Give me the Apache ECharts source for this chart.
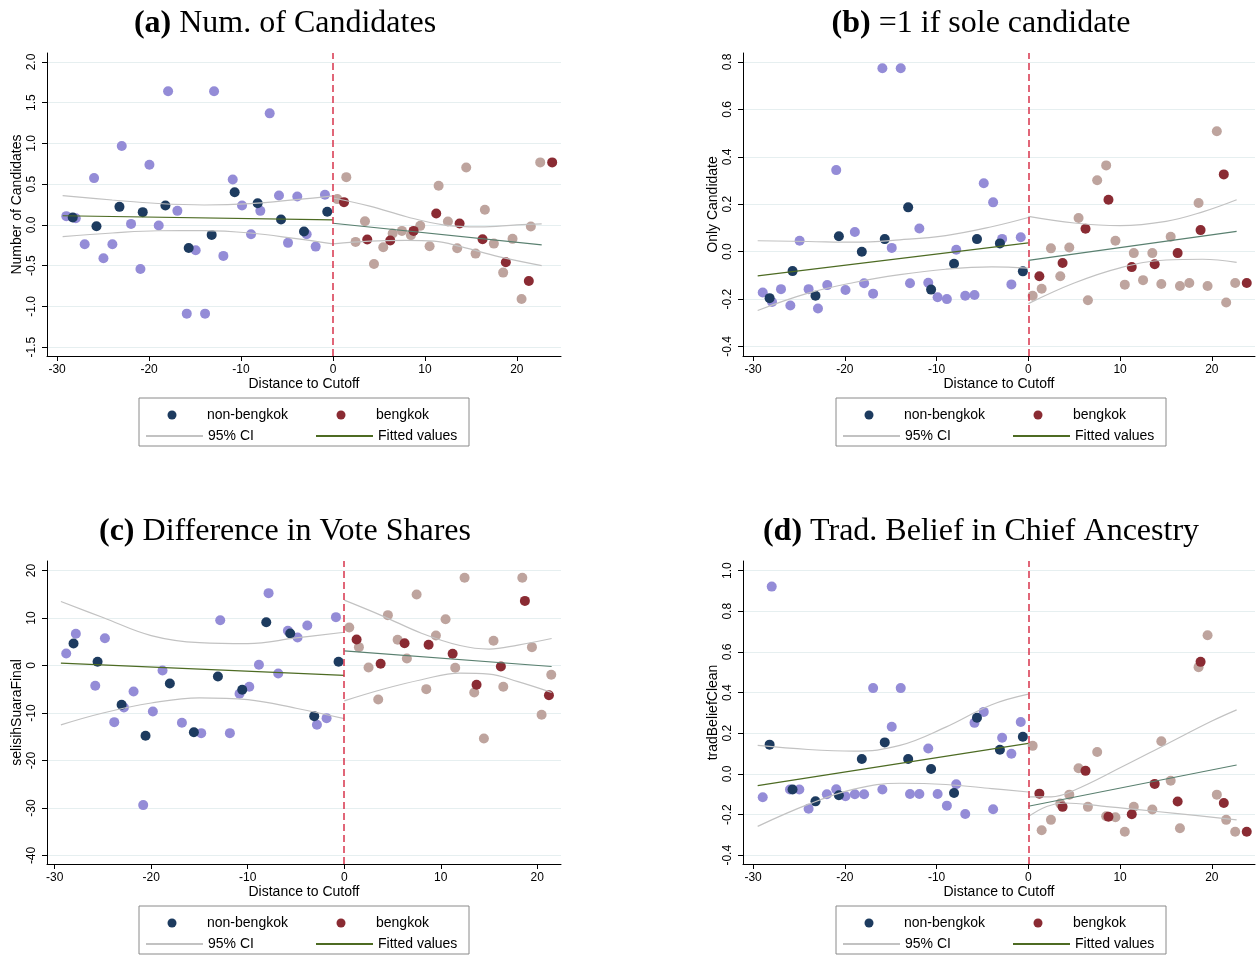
<!DOCTYPE html>
<html><head><meta charset="utf-8">
<script src="https://cdn.jsdelivr.net/npm/echarts@6/dist/echarts.min.js"></script>
<style>html,body{margin:0;padding:0;background:#fff}#c{width:1257px;height:957px}</style>
</head><body><div id="c"></div>
<script>
// ---------- tick labels ----------
const xTicks = [-30, -20, -10, 0, 10, 20];
const yTicksA = [-1.5, -1, -0.5, 0, 0.5, 1, 1.5, 2];
const yTicksB = [-0.4, -0.2, 0, 0.2, 0.4, 0.6, 0.8];
const yTicksC = [-40, -30, -20, -10, 0, 10, 20];
const yTicksD = [-0.4, -0.2, 0, 0.2, 0.4, 0.6, 0.8, 1.0];

// ---------- panel (a) Num. of Candidates ----------
const A_lav = [[-29.0,0.107],[-27.97,0.082],[-27.0,-0.238],[-25.98,0.574],[-24.96,-0.41],[-23.99,-0.238],[-22.97,0.968],[-21.96,0.012],[-20.94,-0.541],[-19.96,0.738],[-18.95,-0.008],[-17.93,1.64],[-16.92,0.172],[-15.9,-1.09],[-14.93,-0.312],[-13.91,-1.09],[-12.93,1.64],[-11.92,-0.381],[-10.9,0.558],[-9.89,0.238],[-8.91,-0.115],[-7.9,0.172],[-6.88,1.369],[-5.87,0.361],[-4.89,-0.221],[-3.88,0.349],[-2.86,-0.115],[-1.88,-0.267],[-0.87,0.369]];
const A_nav = [[-28.3,0.09],[-25.72,-0.016],[-23.22,0.221],[-20.69,0.156],[-18.22,0.238],[-15.69,-0.283],[-13.19,-0.123],[-10.69,0.40],[-8.19,0.266],[-5.65,0.066],[-3.15,-0.082],[-0.62,0.16]];
const A_taupe = [[0.47,0.316],[1.45,0.586],[2.46,-0.209],[3.48,0.045],[4.46,-0.48],[5.47,-0.275],[6.49,-0.107],[7.5,-0.074],[8.48,-0.127],[9.49,-0.012],[10.51,-0.262],[11.49,0.48],[12.5,0.041],[13.51,-0.287],[14.49,0.705],[15.51,-0.353],[16.52,0.185],[17.5,-0.23],[18.51,-0.586],[19.53,-0.172],[20.51,-0.91],[21.52,-0.02],[22.54,0.767]];
const A_red = [[1.2,0.279],[3.73,-0.18],[6.23,-0.193],[8.77,-0.074],[11.23,0.139],[13.77,0.016],[16.27,-0.176],[18.8,-0.459],[21.3,-0.689],[23.84,0.767]];
const A_fitL = [[-29.4,0.112],[0,0.062]];
const A_fitR = [[0,0.02],[22.7,-0.246]];
const A_ciUpL = [[-29.4,0.36],[-24,0.305],[-19,0.262],[-14,0.244],[-9,0.26],[-4,0.31],[0,0.357]];
const A_ciLoL = [[-29.4,-0.144],[-24,-0.1],[-19,-0.072],[-14,-0.07],[-9,-0.1],[-4,-0.17],[0,-0.234]];
const A_ciUpR = [[0,0.33],[4,0.23],[8,0.1],[12,0.0],[16,-0.025],[20,0.0],[22.7,0.012]];
const A_ciLoR = [[0,-0.234],[4,-0.2],[8,-0.19],[11,-0.2],[14,-0.27],[18,-0.39],[22.7,-0.5]];

// ---------- panel (b) =1 if sole candidate ----------
const B_lav = [[-28.95,-0.172],[-27.93,-0.212],[-26.96,-0.158],[-25.94,-0.227],[-24.93,0.046],[-23.95,-0.158],[-22.93,-0.24],[-21.92,-0.141],[-20.94,0.344],[-19.93,-0.162],[-18.91,0.083],[-17.9,-0.133],[-16.92,-0.177],[-15.91,0.774],[-14.89,0.016],[-13.91,0.774],[-12.9,-0.133],[-11.88,0.098],[-10.91,-0.131],[-9.89,-0.192],[-8.88,-0.2],[-7.86,0.008],[-6.88,-0.186],[-5.87,-0.183],[-4.86,0.289],[-3.84,0.208],[-2.86,0.054],[-1.85,-0.138],[-0.83,0.061]];
const B_nav = [[-28.2,-0.196],[-25.7,-0.082],[-23.2,-0.186],[-20.65,0.065],[-18.15,0.0],[-15.65,0.053],[-13.1,0.187],[-10.6,-0.16],[-8.1,-0.051],[-5.6,0.053],[-3.1,0.035],[-0.6,-0.083]];
const B_taupe = [[0.47,-0.186],[1.45,-0.156],[2.46,0.014],[3.48,-0.104],[4.46,0.018],[5.47,0.142],[6.49,-0.205],[7.5,0.301],[8.48,0.364],[9.49,0.046],[10.51,-0.139],[11.49,-0.006],[12.5,-0.12],[13.51,-0.006],[14.49,-0.136],[15.51,0.063],[16.52,-0.145],[17.54,-0.132],[18.55,0.205],[19.53,-0.145],[20.54,0.508],[21.56,-0.214],[22.54,-0.132]];
const B_red = [[1.2,-0.104],[3.73,-0.048],[6.23,0.097],[8.73,0.219],[11.27,-0.065],[13.77,-0.053],[16.27,-0.006],[18.77,0.091],[21.3,0.326],[23.8,-0.132]];
const B_fitL = [[-29.5,-0.102],[0,0.037]];
const B_fitR = [[0,-0.037],[22.7,0.086]];
const B_ciUpL = [[-29.5,0.046],[-24,0.043],[-19,0.04],[-14,0.05],[-9,0.068],[-4,0.105],[0,0.144]];
const B_ciLoL = [[-29.5,-0.248],[-24,-0.175],[-19,-0.13],[-14,-0.097],[-9,-0.074],[-4,-0.064],[0,-0.069]];
const B_ciUpR = [[0,0.149],[5,0.121],[10,0.11],[15,0.128],[19,0.168],[22.7,0.219]];
const B_ciLoR = [[0,-0.219],[5,-0.132],[10,-0.068],[15,-0.035],[19,-0.032],[22.7,-0.045]];

// ---------- panel (c) Difference in Vote Shares ----------
const C_lav = [[-28.81,2.53],[-27.81,6.67],[-25.8,-4.28],[-24.8,5.75],[-23.83,-11.93],[-22.83,-8.84],[-21.83,-5.47],[-20.83,-29.4],[-19.83,-9.68],[-18.83,-1.05],[-16.82,-12.07],[-14.82,-14.25],[-12.85,9.54],[-11.85,-14.25],[-10.85,-5.96],[-9.84,-4.49],[-8.84,0.14],[-7.84,15.23],[-6.84,-1.68],[-5.84,7.3],[-4.84,5.89],[-3.83,8.42],[-2.83,-12.49],[-1.83,-11.09],[-0.86,10.18]];
const C_nav = [[-28.05,4.63],[-25.56,0.77],[-23.07,-8.28],[-20.59,-14.81],[-18.07,-3.79],[-15.58,-14.04],[-13.09,-2.32],[-10.57,-5.12],[-8.08,9.12],[-5.6,6.74],[-3.11,-10.67],[-0.59,0.77]];
const C_taupe = [[0.52,8.0],[1.52,3.86],[2.52,-0.42],[3.52,-7.16],[4.52,10.6],[5.53,5.4],[6.49,1.47],[7.5,14.95],[8.5,-4.98],[9.5,6.32],[10.5,9.75],[11.5,-0.49],[12.47,18.46],[13.47,-5.68],[14.47,-15.37],[15.47,5.19],[16.48,-4.49],[18.45,18.46],[19.45,3.86],[20.45,-10.39],[21.45,-1.96]];
const C_red = [[1.28,5.47],[3.77,0.35],[6.25,4.7],[8.74,4.35],[11.23,2.46],[13.71,-4.07],[16.23,-0.21],[18.72,13.6],[21.21,-6.25]];
const C_fitL = [[-29.36,0.49],[0,-2.1]];
const C_fitR = [[0,3.09],[21.49,-0.21]];
const C_ciUpL = [[-29.36,13.47],[-25,10.1],[-20,6.3],[-15,4.8],[-10,4.6],[-5,5.8],[0,7.0]];
const C_ciLoL = [[-29.36,-12.5],[-25,-10.0],[-20,-7.9],[-15,-6.8],[-10,-7.2],[-5,-9.0],[0,-11.2]];
const C_ciUpR = [[0,13.75],[4,10.4],[8,6.8],[12,4.2],[15,3.45],[18,4.3],[21.49,5.68]];
const C_ciLoR = [[0,-7.44],[4,-5.0],[8,-3.0],[12,-1.6],[15,-1.8],[18,-3.4],[21.49,-5.68]];

// ---------- panel (d) Trad. Belief in Chief Ancestry ----------
const D_lav = [[-28.95,-0.115],[-27.97,0.921],[-25.98,-0.077],[-24.96,-0.077],[-23.95,-0.171],[-21.96,-0.1],[-20.94,-0.076],[-19.93,-0.11],[-18.91,-0.1],[-17.9,-0.1],[-16.92,0.422],[-15.91,-0.077],[-14.89,0.232],[-13.91,0.422],[-12.9,-0.099],[-11.88,-0.099],[-10.91,0.125],[-9.89,-0.099],[-8.88,-0.156],[-7.86,-0.051],[-6.88,-0.197],[-5.87,0.251],[-4.86,0.305],[-3.84,-0.174],[-2.86,0.178],[-1.85,0.099],[-0.83,0.255]];
const D_nav = [[-28.2,0.144],[-25.7,-0.077],[-23.2,-0.135],[-20.65,-0.105],[-18.15,0.073],[-15.65,0.155],[-13.1,0.073],[-10.6,0.024],[-8.1,-0.094],[-5.6,0.276],[-3.1,0.119],[-0.6,0.183]];
const D_taupe = [[0.47,0.138],[1.45,-0.277],[2.46,-0.226],[3.48,-0.146],[4.46,-0.102],[5.47,0.028],[6.49,-0.162],[7.5,0.108],[8.48,-0.208],[9.49,-0.213],[10.51,-0.284],[11.49,-0.162],[13.51,-0.175],[14.49,0.161],[15.51,-0.034],[16.52,-0.267],[18.55,0.525],[19.53,0.682],[20.54,-0.102],[21.56,-0.226],[22.54,-0.284]];
const D_red = [[1.2,-0.097],[3.73,-0.162],[6.23,0.015],[8.73,-0.211],[11.27,-0.198],[13.77,-0.049],[16.27,-0.136],[18.77,0.551],[21.3,-0.143],[23.8,-0.284]];
const D_fitL = [[-29.5,-0.058],[0,0.15]];
const D_fitR = [[0,-0.159],[22.7,0.044]];
const D_ciUpL = [[-29.5,0.14],[-24,0.12],[-19,0.112],[-14,0.14],[-9,0.23],[-4,0.34],[0,0.392]];
const D_ciLoL = [[-29.5,-0.258],[-24,-0.15],[-19,-0.075],[-14,-0.046],[-9,-0.052],[-4,-0.072],[0,-0.089]];
const D_ciUpR = [[0,-0.113],[2.5,-0.113],[5,-0.08],[10,0.03],[15,0.145],[20,0.26],[22.7,0.315]];
const D_ciLoR = [[0,-0.21],[2,-0.16],[4,-0.143],[8,-0.158],[12,-0.176],[16,-0.194],[22.7,-0.226]];

// ---------- titles / axis names ----------
const panelTitles = [['(a)', ' Num. of Candidates'], ['(b)', ' =1 if sole candidate'], ['(c)', ' Difference in Vote Shares'], ['(d)', ' Trad. Belief in Chief Ancestry']];
const yNames = ['Number of Candidates', 'Only Candidate', 'selisihSuaraFinal', 'tradBeliefClean'];
const xName = 'Distance to Cutoff';
const legendNames = ['non-bengkok', 'bengkok', '95% CI', 'Fitted values'];

// ---------- build ----------
const FONT = 'Liberation Sans';
const SERIF = 'Liberation Serif';
const C_NAV = '#1d3b5f', C_LAV = '#948cd7', C_RED = '#8a2b33', C_TAU = '#bea49e';
const C_CI = '#c2c2c2', C_FITL = '#4d6b23', C_FITR = '#5a8070', C_CUT = '#d8344c';

const panels = [
  {lav:A_lav, nav:A_nav, tau:A_taupe, red:A_red, fitL:A_fitL, fitR:A_fitR, upL:A_ciUpL, loL:A_ciLoL, upR:A_ciUpR, loR:A_ciLoR, yt:yTicksA, xr:[-31.1,24.8], yr:[-1.61,2.11], dec:1},
  {lav:B_lav, nav:B_nav, tau:B_taupe, red:B_red, fitL:B_fitL, fitR:B_fitR, upL:B_ciUpL, loL:B_ciLoL, upR:B_ciUpR, loR:B_ciLoR, yt:yTicksB, xr:[-31.1,24.7], yr:[-0.44,0.838], dec:1},
  {lav:C_lav, nav:C_nav, tau:C_taupe, red:C_red, fitL:C_fitL, fitR:C_fitR, upL:C_ciUpL, loL:C_ciLoL, upR:C_ciUpR, loR:C_ciLoR, yt:yTicksC, xr:[-30.8,22.46], yr:[-41.8,22.0], dec:0},
  {lav:D_lav, nav:D_nav, tau:D_taupe, red:D_red, fitL:D_fitL, fitR:D_fitR, upL:D_ciUpL, loL:D_ciLoL, upR:D_ciUpR, loR:D_ciLoR, yt:yTicksD, xr:[-31.1,24.7], yr:[-0.443,1.047], dec:1}
];
const gridBoxes = [
  {left:47, top:53, width:514, height:303},
  {left:743, top:53, width:512, height:303},
  {left:47, top:561, width:514, height:303},
  {left:743, top:561, width:512, height:303}
];
const offs = [[0,0],[697,0],[0,508],[697,508]];

const grid = [], xAxis = [], yAxis = [], series = [], legend = [], graphic = [];

panels.forEach((p, i) => {
  grid.push(Object.assign({containLabel:false}, gridBoxes[i]));
  xAxis.push({
    type:'value', gridIndex:i, min:p.xr[0], max:p.xr[1],
    name:xName, nameLocation:'middle', nameGap:21,
    nameTextStyle:{fontSize:14, color:'#000', fontFamily:FONT},
    axisLine:{show:true, onZero:false, lineStyle:{color:'#000', width:1}},
    axisTick:{show:true, length:5, customValues:xTicks, lineStyle:{color:'#000'}},
    axisLabel:{customValues:xTicks, fontSize:12, color:'#000', margin:8, fontFamily:FONT},
    splitLine:{show:false}
  });
  yAxis.push({
    type:'value', gridIndex:i, min:p.yr[0], max:p.yr[1],
    name:yNames[i], nameLocation:'middle', nameGap:23,
    nameTextStyle:{fontSize:14, color:'#000', fontFamily:FONT},
    axisLine:{show:true, onZero:false, lineStyle:{color:'#000', width:1}},
    axisTick:{show:true, length:5, customValues:p.yt, lineStyle:{color:'#000'}},
    axisLabel:{customValues:p.yt, rotate:90, fontSize:12, color:'#000', margin:9, fontFamily:FONT,
      formatter: v => p.dec ? Number(v).toFixed(1) : String(Math.round(v))},
    splitLine:{show:true, lineStyle:{color:'#e6eff0', width:1.2}}
  });
  const sc = (name, data, color) => ({type:'scatter', name, xAxisIndex:i, yAxisIndex:i, data, symbol:'circle', symbolSize:10, itemStyle:{color, opacity:1}, z:2});
  const ln = (name, data, color, smooth) => ({type:'line', name, xAxisIndex:i, yAxisIndex:i, data, symbol:'none', showSymbol:false, smooth:smooth, lineStyle:{color, width:1.2}, itemStyle:{color}, z:3});
  series.push(sc('below cutoff', p.lav, C_LAV));
  const navS = sc('non-bengkok', p.nav, C_NAV);
  navS.markLine = {silent:true, symbol:['none','none'], label:{show:false}, data:[{xAxis:0}],
    lineStyle:{color:C_CUT, type:[7,4], width:1.5}, emphasis:{disabled:true}};
  series.push(navS);
  series.push(sc('above cutoff', p.tau, C_TAU));
  series.push(sc('bengkok', p.red, C_RED));
  series.push(ln('95% CI', p.upL, C_CI, 0.4));
  series.push(ln('95% CI', p.loL, C_CI, 0.4));
  series.push(ln('95% CI', p.upR, C_CI, 0.4));
  series.push(ln('95% CI', p.loR, C_CI, 0.4));
  series.push(ln('Fitted values', p.fitL, C_FITL, false));
  series.push(ln('Fitted values', p.fitR, C_FITR, false));

  const [dx, dy] = offs[i];
  const txt = {fontSize:14, color:'#000', fontFamily:FONT};
  // scatter legend items (circle icon; box starts at the circle's left edge)
  [[0,167.5,414],[1,336.5,414]].forEach(([k,x,y]) => {
    legend.push({data:[{name:legendNames[k], icon:'circle'}], left:x+dx, top:y+dy-6, padding:0,
      itemWidth:60, itemHeight:9, selectedMode:false, textStyle:txt});
  });
  // line legend items (line icon, no marker)
  [[2,145,435],[3,315,435]].forEach(([k,x,y]) => {
    legend.push({data:[{name:legendNames[k], itemStyle:{opacity:0}}], left:x+dx, top:y+dy-6, padding:0,
      itemWidth:57, itemHeight:9, selectedMode:false, textStyle:txt});
  });
  graphic.push({type:'rect', shape:{x:139+dx, y:398+dy, width:330, height:48},
    style:{fill:'none', stroke:'#8a8a8a', lineWidth:1}, silent:true});
  const cx = i % 2 === 0 ? 285 : 981;
  graphic.push({type:'text', x:cx, y:24+dy, silent:true,
    style:{text:'{b|' + panelTitles[i][0] + '}{n|' + panelTitles[i][1] + '}',
      align:'center', verticalAlign:'middle', fill:'#000',
      rich:{b:{fontFamily:SERIF, fontSize:32, fontWeight:'bold', fill:'#000'},
            n:{fontFamily:SERIF, fontSize:32, fontWeight:'normal', fill:'#000'}}}});
});

const chart = echarts.init(document.getElementById('c'), null, {renderer:'canvas'});
chart.setOption({
  animation:false, backgroundColor:'#fff',
  grid, xAxis, yAxis, series, legend, graphic
});
</script>
</body></html>
